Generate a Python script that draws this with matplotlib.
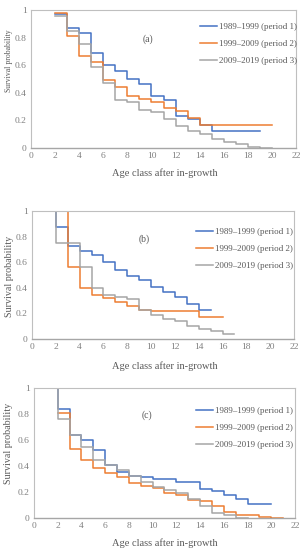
import matplotlib
matplotlib.use("Agg")
import matplotlib.pyplot as plt

# Survival probability per age class (value held from age x to x+1)
labels = ["1989\u20131999 (period 1)", "1999\u20132009 (period 2)", "2009\u20132019 (period 3)"]
colors = ["#4472C4", "#ED7D31", "#A5A5A5"]
panel_names = ["(a)", "(b)", "(c)"]

# panel (a)
a_ages_1 = [2, 3, 4, 5, 6, 7, 8, 9, 10, 11, 12, 13, 14, 15, 16, 17, 18, 19]
a_surv_1 = [0.97, 0.87, 0.835, 0.69, 0.60, 0.56, 0.50, 0.465, 0.38, 0.35, 0.23, 0.21, 0.165, 0.12, 0.12, 0.12, 0.12, 0.12]
a_ages_2 = [2, 3, 4, 5, 6, 7, 8, 9, 10, 11, 12, 13, 14, 15, 16, 17, 18, 19, 20]
a_surv_2 = [0.976, 0.815, 0.67, 0.62, 0.495, 0.445, 0.38, 0.355, 0.33, 0.29, 0.27, 0.22, 0.165, 0.165, 0.165, 0.165, 0.165, 0.165, 0.165]
a_ages_3 = [2, 3, 4, 5, 6, 7, 8, 9, 10, 11, 12, 13, 14, 15, 16, 17, 18, 19, 20]
a_surv_3 = [0.96, 0.85, 0.75, 0.59, 0.47, 0.35, 0.33, 0.275, 0.26, 0.21, 0.16, 0.125, 0.10, 0.065, 0.045, 0.03, 0.01, 0.003, 0.003]

# panel (b)
b_ages_1 = [2, 2, 3, 4, 5, 6, 7, 8, 9, 10, 11, 12, 13, 14, 15]
b_surv_1 = [1.0, 0.875, 0.727, 0.69, 0.66, 0.60, 0.54, 0.495, 0.46, 0.41, 0.365, 0.325, 0.27, 0.225, 0.225]
b_ages_2 = [2, 3, 4, 5, 6, 7, 8, 9, 10, 11, 12, 13, 14, 15, 16]
b_surv_2 = [1.0, 0.565, 0.395, 0.345, 0.32, 0.29, 0.26, 0.23, 0.215, 0.215, 0.215, 0.215, 0.175, 0.175, 0.175]
b_ages_3 = [2, 2, 3, 4, 5, 6, 7, 8, 9, 10, 11, 12, 13, 14, 15, 16, 17]
b_surv_3 = [1.0, 0.75, 0.75, 0.56, 0.40, 0.34, 0.33, 0.31, 0.225, 0.19, 0.16, 0.14, 0.10, 0.075, 0.06, 0.04, 0.04]

# panel (c)
c_ages_1 = [2, 2, 3, 4, 5, 6, 7, 8, 9, 10, 11, 12, 13, 14, 15, 16, 17, 18, 19, 20]
c_surv_1 = [1.0, 0.84, 0.64, 0.60, 0.525, 0.41, 0.355, 0.325, 0.315, 0.30, 0.30, 0.28, 0.28, 0.225, 0.205, 0.18, 0.145, 0.11, 0.11, 0.11]
c_ages_2 = [2, 3, 4, 5, 6, 7, 8, 9, 10, 11, 12, 13, 14, 15, 16, 17, 18, 19, 20, 21]
c_surv_2 = [0.81, 0.53, 0.45, 0.385, 0.35, 0.315, 0.27, 0.25, 0.23, 0.195, 0.175, 0.14, 0.13, 0.095, 0.045, 0.025, 0.02, 0.008, 0.003, 0.003]
c_ages_3 = [2, 2, 3, 4, 5, 6, 7, 8, 9, 10, 11, 12, 13, 14, 15, 16, 17, 18]
c_surv_3 = [1.0, 0.76, 0.64, 0.545, 0.445, 0.41, 0.37, 0.32, 0.28, 0.24, 0.215, 0.19, 0.145, 0.09, 0.04, 0.025, 0.0, 0.0]

panels = [
    [(a_ages_1, a_surv_1), (a_ages_2, a_surv_2), (a_ages_3, a_surv_3)],
    [(b_ages_1, b_surv_1), (b_ages_2, b_surv_2), (b_ages_3, b_surv_3)],
    [(c_ages_1, c_surv_1), (c_ages_2, c_surv_2), (c_ages_3, c_surv_3)],
]

W, H = 306, 550
# axes boxes in pixels: left, top, right, bottom
boxes = [(31, 10, 296, 148), (32, 211, 294, 339), (34, 388, 295, 518)]
xlabel_y = [173, 366, 543]
ylabel_pos = [(13, 61), (14, 276), (13, 443)]
ylabel_size = [5.6, 7.2, 7.2]
legend_pos = [(200, 28), (196, 233), (196, 412)]
tag_pos = [(148, 39), (144, 239), (147, 415)]

plt.rcParams["font.family"] = ["Liberation Serif", "DejaVu Serif"]
text_color = "#595959"

figure = plt.figure(figsize=(W/100, H/100), dpi=100)
for i, series in enumerate(panels):
    l, t, r, b = boxes[i]
    ax = figure.add_axes([l/W, 1 - b/H, (r - l)/W, (b - t)/H])
    for (ages, surv), color, label in zip(series, colors, labels):
        ax.step(ages, surv, where="post", color=color, lw=1.1, label=label)
    ax.set_xlim(0, 22)
    ax.set_ylim(0, 1)
    ax.set_xticks(range(0, 23, 2))
    ax.set_yticks([0, 0.2, 0.4, 0.6, 0.8, 1])
    ax.set_yticklabels(["0", "0.2", "0.4", "0.6", "0.8", "1"])
    ax.tick_params(length=0, labelsize=6.8, colors="#7F7F7F", pad=3)
    for side in ["top", "right", "left"]:
        ax.spines[side].set_color("#BFBFBF")
        ax.spines[side].set_linewidth(0.8)
    ax.spines["bottom"].set_color("#A6A6A6")
    ax.spines["bottom"].set_linewidth(1.0)
    ax.set_ylabel("Survival probability", fontsize=ylabel_size[i], color=text_color)
    yx, yy = ylabel_pos[i]
    ax.yaxis.set_label_coords((yx - l)/(r - l), 1 - (yy - t)/(b - t))
    figure.text(165/W, 1 - xlabel_y[i]/H, "Age class after in-growth",
                fontsize=7.5, color=text_color, ha="center", va="center")
    tx, ty = tag_pos[i]
    figure.text(tx/W, 1 - ty/H, panel_names[i], fontsize=7, color=text_color,
                ha="center", va="center")
    lx, ly = legend_pos[i]
    ax.legend(loc="upper left", bbox_to_anchor=((lx - l)/(r - l), 1 - (ly - 5 - t)/(b - t)),
              frameon=False, fontsize=6.5, handlelength=1.9, handletextpad=0.2,
              labelspacing=0.95, borderpad=0, borderaxespad=0, labelcolor=text_color)

figure.savefig("out.png", dpi=100)
